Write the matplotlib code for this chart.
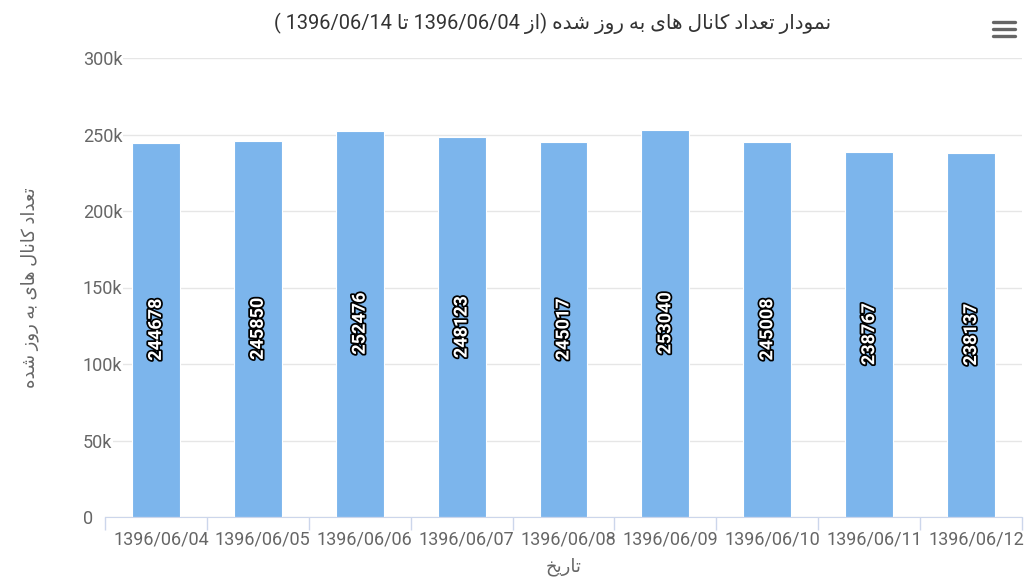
import matplotlib
matplotlib.use('Agg')
import matplotlib.pyplot as plt
import matplotlib.patheffects as pe
import matplotlib.transforms as mtransforms
from matplotlib.lines import Line2D
from matplotlib.ticker import FuncFormatter, MultipleLocator

# ---------------- data ----------------
dates = ['1396/06/04', '1396/06/05', '1396/06/06', '1396/06/07', '1396/06/08',
         '1396/06/09', '1396/06/10', '1396/06/11', '1396/06/12']
channels = [244678, 245850, 252476, 248123, 245017, 253040, 245008, 238767, 238137]
start_date = '1396/06/04'
end_date = '1396/06/14'

title_fa = 'نمودار تعداد کانال های به روز شده'
from_fa = 'از'
to_fa = 'تا'
ylabel_fa = 'تعداد کانال های به روز شده'
xlabel_fa = 'تاریخ'

# ---------- tiny persian shaper (no arabic_reshaper here) ----------
# isolated, final, initial, medial
FORMS = {
    'ا': ('\uFE8D', '\uFE8E', None, None),
    'ب': ('\uFE8F', '\uFE90', '\uFE91', '\uFE92'),
    'ت': ('\uFE95', '\uFE96', '\uFE97', '\uFE98'),
    'خ': ('\uFEA5', '\uFEA6', '\uFEA7', '\uFEA8'),
    'د': ('\uFEA9', '\uFEAA', None, None),
    'ر': ('\uFEAD', '\uFEAE', None, None),
    'ز': ('\uFEAF', '\uFEB0', None, None),
    'ش': ('\uFEB5', '\uFEB6', '\uFEB7', '\uFEB8'),
    'ع': ('\uFEC9', '\uFECA', '\uFECB', '\uFECC'),
    'ل': ('\uFEDD', '\uFEDE', '\uFEDF', '\uFEE0'),
    'م': ('\uFEE1', '\uFEE2', '\uFEE3', '\uFEE4'),
    'ن': ('\uFEE5', '\uFEE6', '\uFEE7', '\uFEE8'),
    'ه': ('\uFEE9', '\uFEEA', '\uFEEB', '\uFEEC'),
    'و': ('\uFEED', '\uFEEE', None, None),
    'ک': ('\uFB8E', '\uFB8F', '\uFB90', '\uFB91'),
    'ی': ('\uFBFC', '\uFBFD', '\uFBFE', '\uFBFF'),
}


def shape(s):
    out = []
    for i, ch in enumerate(s):
        if ch not in FORMS:
            out.append(ch)
            continue
        prev = s[i - 1] if i > 0 else None
        nxt = s[i + 1] if i + 1 < len(s) else None
        iso, fin, ini, med = FORMS[ch]
        jp = prev in FORMS and FORMS[prev][2] is not None
        jn = nxt in FORMS and ini is not None
        if jp and jn:
            out.append(med)
        elif jp:
            out.append(fin)
        elif jn:
            out.append(ini)
        else:
            out.append(iso)
    return ''.join(out)


def rtl(s):
    return shape(s)[::-1]


plt.rcParams['font.family'] = ['Roboto', 'DejaVu Sans']

GRID = '#e6e6e6'
AXIS = '#ccd6eb'
TXT = '#666666'

fig = plt.figure(figsize=(10.35, 5.82), dpi=100)
ax = fig.add_axes([105 / 1035, 65 / 582, 917 / 1035, 459 / 582])

x = list(range(len(dates)))
ax.bar(x, channels, width=0.47, color='#7cb5ec', edgecolor='white', linewidth=0.8, zorder=2)

for i, v in enumerate(channels):
    ax.text(i, v / 2, str(v), rotation=90, ha='center', va='center', color='white',
            fontsize=13, fontweight='bold', zorder=3,
            path_effects=[pe.withStroke(linewidth=2.5, foreground='black')])

ax.set_xlim(-0.5, len(dates) - 0.5)
ax.set_ylim(0, 300000)
ax.yaxis.set_major_locator(MultipleLocator(50000))
ax.yaxis.set_major_formatter(FuncFormatter(lambda v, p: '0' if v == 0 else '%dk' % (v / 1000)))
ax.grid(axis='y', color=GRID, linewidth=1, zorder=0)
ax.set_axisbelow(True)

for s in ['top', 'right', 'left']:
    ax.spines[s].set_visible(False)
ax.spines['bottom'].set_color(AXIS)
ax.spines['bottom'].set_zorder(4)

ax.set_xticks(x)
ax.set_xticklabels(dates)
ax.set_xticks([i - 0.5 for i in range(len(dates) + 1)], minor=True)
ax.tick_params(axis='x', which='major', length=0, pad=10, labelsize=13, labelcolor=TXT)
ax.tick_params(axis='x', which='minor', length=9, width=1, color=AXIS)
ax.tick_params(axis='y', length=0, pad=16, labelsize=13, labelcolor=TXT)
shift = mtransforms.ScaledTranslation(5 / 100, 0, fig.dpi_scale_trans)
for lab in ax.get_xticklabels():
    lab.set_transform(lab.get_transform() + shift)
for lab in ax.get_yticklabels():
    lab.set_horizontalalignment('left')
    lab.set_bbox(dict(facecolor='white', edgecolor='none', pad=0.5))

ax.set_xlabel(rtl(xlabel_fa), fontsize=13, color=TXT)
ax.xaxis.set_label_coords(0.5, -0.088)
ax.set_ylabel(rtl(ylabel_fa), fontsize=13, color=TXT)
ax.yaxis.set_label_coords(-0.072, 0.5)

title = '( ' + end_date + ' ' + rtl(to_fa) + ' ' + start_date + ' ' + rtl(from_fa) + ') ' + rtl(title_fa)
fig.text(553 / 1035, 1 - 23 / 582, title, ha='center', va='center', fontsize=14.4, color='#333333')

# export menu icon
for yy in [21.7, 29, 36.3]:
    fig.add_artist(Line2D([993 / 1035, 1015 / 1035], [1 - yy / 582] * 2, color='#666666',
                          linewidth=2.4, solid_capstyle='round'))

fig.savefig('out.png', dpi=100)
